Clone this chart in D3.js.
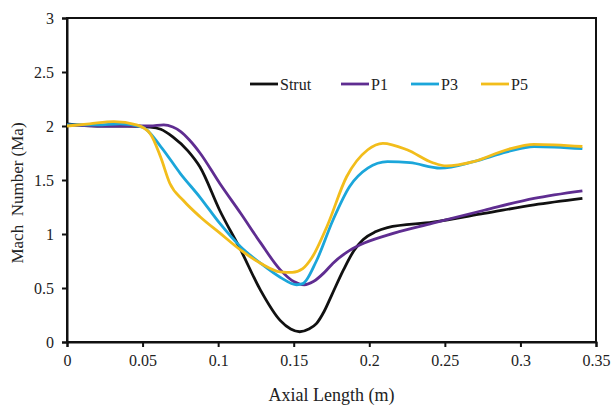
<!DOCTYPE html>
<html>
  <head>
    <meta charset="UTF-8">
    <title>Mach Number</title>
    <script src="https://d3js.org/d3.v7.min.js"></script>
    <style>
      body { margin: 0; background: #fff; }
      svg text { font-family: "Liberation Serif", "Times New Roman", serif; fill: #222; }
    </style>
  </head>
  <body>
    <svg width="616" height="410"></svg>
    <script>
      const seriesNames = ["Strut", "P1", "P3", "P5"];
      const seriesColors = ["#111111", "#5f2d91", "#1ba6da", "#f2bd1b"];

      const strutX = [0, 0.02, 0.04, 0.055, 0.062, 0.07, 0.08, 0.088, 0.101, 0.115, 0.128, 0.141, 0.148, 0.154, 0.16, 0.165, 0.17, 0.175, 0.183, 0.19, 0.196, 0.204, 0.212, 0.242, 0.276, 0.309, 0.341];
      const strutY = [2.02, 2.0, 2.0, 1.99, 1.97, 1.9, 1.77, 1.62, 1.22, 0.85, 0.48, 0.2, 0.12, 0.095, 0.12, 0.17, 0.28, 0.43, 0.67, 0.85, 0.95, 1.02, 1.06, 1.11, 1.19, 1.27, 1.33];

      const p1X = [0, 0.02, 0.04, 0.055, 0.064, 0.07, 0.075, 0.081, 0.088, 0.101, 0.115, 0.128, 0.141, 0.15, 0.157, 0.163, 0.17, 0.176, 0.185, 0.194, 0.212, 0.242, 0.276, 0.309, 0.341];
      const p1Y = [2.01, 2.0, 2.0, 2.0, 2.01, 1.99, 1.95, 1.87, 1.75, 1.47, 1.19, 0.92, 0.67, 0.56, 0.53, 0.56, 0.64, 0.73, 0.83, 0.9, 0.99, 1.1, 1.22, 1.33, 1.4];

      const p3X = [0, 0.02, 0.035, 0.05, 0.062, 0.075, 0.088, 0.101, 0.115, 0.128, 0.141, 0.152, 0.156, 0.165, 0.176, 0.187, 0.199, 0.212, 0.227, 0.247, 0.269, 0.291, 0.309, 0.341];
      const p3Y = [2.01, 2.01, 2.02, 1.99, 1.81, 1.56, 1.34, 1.1, 0.88, 0.73, 0.6, 0.53, 0.54, 0.75, 1.13, 1.44, 1.61, 1.67, 1.66, 1.61, 1.67, 1.76, 1.81, 1.79];

      const p5X = [0, 0.015, 0.031, 0.046, 0.055, 0.062, 0.068, 0.077, 0.088, 0.101, 0.115, 0.128, 0.141, 0.149, 0.156, 0.162, 0.172, 0.185, 0.199, 0.209, 0.225, 0.242, 0.251, 0.269, 0.291, 0.309, 0.341];
      const p5Y = [2.0, 2.02, 2.04, 2.01, 1.93, 1.71, 1.47, 1.31, 1.16, 1.01, 0.85, 0.73, 0.65, 0.645, 0.68, 0.78, 1.07, 1.53, 1.78, 1.84, 1.78, 1.66, 1.63, 1.67, 1.78, 1.83, 1.81];

      const xTicks = [0, 0.05, 0.1, 0.15, 0.2, 0.25, 0.3, 0.35];
      const yTicks = [0, 0.5, 1, 1.5, 2, 2.5, 3];

      const allX = [strutX, p1X, p3X, p5X];
      const allY = [strutY, p1Y, p3Y, p5Y];

      const margin = { left: 67, right: 20, top: 18, bottom: 68 };
      const width = 616;
      const height = 410;

      const svg = d3.select("svg");

      const x = d3.scaleLinear().domain([0, 0.35]).range([margin.left, width - margin.right]);
      const y = d3.scaleLinear().domain([0, 3]).range([height - margin.bottom, margin.top]);

      // frame
      svg.append("rect")
        .attr("x", x(0)).attr("y", y(3))
        .attr("width", x(0.35) - x(0)).attr("height", y(0) - y(3))
        .attr("fill", "none").attr("stroke", "#111").attr("stroke-width", 2);

      const xAxis = svg.append("g")
        .attr("transform", `translate(0,${y(0)})`)
        .call(d3.axisBottom(x).tickValues(xTicks).tickSize(5).tickPadding(8).tickFormat(d => d3.format("")(d)));
      const yAxis = svg.append("g")
        .attr("transform", `translate(${x(0)},0)`)
        .call(d3.axisLeft(y).tickValues(yTicks).tickSize(5).tickPadding(8).tickFormat(d => d3.format("")(d)));

      [xAxis, yAxis].forEach(a => {
        a.attr("font-family", null);
        a.select(".domain").attr("stroke", "#111").attr("stroke-width", 2);
        a.selectAll(".tick line").attr("stroke", "#111").attr("stroke-width", 2);
        a.selectAll(".tick text").attr("font-size", 16).attr("fill", "#222");
      });

      const line = d3.line()
        .x(d => x(d[0]))
        .y(d => y(d[1]))
        .curve(d3.curveMonotoneX);

      seriesNames.forEach((name, i) => {
        const pts = allX[i].map((v, j) => [v, allY[i][j]]);
        svg.append("path")
          .datum(pts)
          .attr("d", line)
          .attr("fill", "none")
          .attr("stroke", seriesColors[i])
          .attr("stroke-width", 2.8);
      });

      // legend
      const legendX = [250, 341, 411, 481];
      const legend = svg.append("g");
      seriesNames.forEach((name, i) => {
        legend.append("line")
          .attr("x1", legendX[i]).attr("x2", legendX[i] + 28)
          .attr("y1", 84).attr("y2", 84)
          .attr("stroke", seriesColors[i]).attr("stroke-width", 2.8);
        legend.append("text")
          .attr("x", legendX[i] + 30).attr("y", 90)
          .attr("font-size", 16)
          .text(name);
      });

      svg.append("text")
        .attr("x", x(0.175)).attr("y", 401)
        .attr("text-anchor", "middle")
        .attr("font-size", 18)
        .text("Axial Length (m)");

      svg.append("text")
        .attr("transform", `translate(23,193) rotate(-90)`)
        .attr("text-anchor", "middle")
        .attr("font-size", 17)
        .style("white-space", "pre")
        .text("Mach  Number (Ma)");
    </script>
  </body>
</html>
